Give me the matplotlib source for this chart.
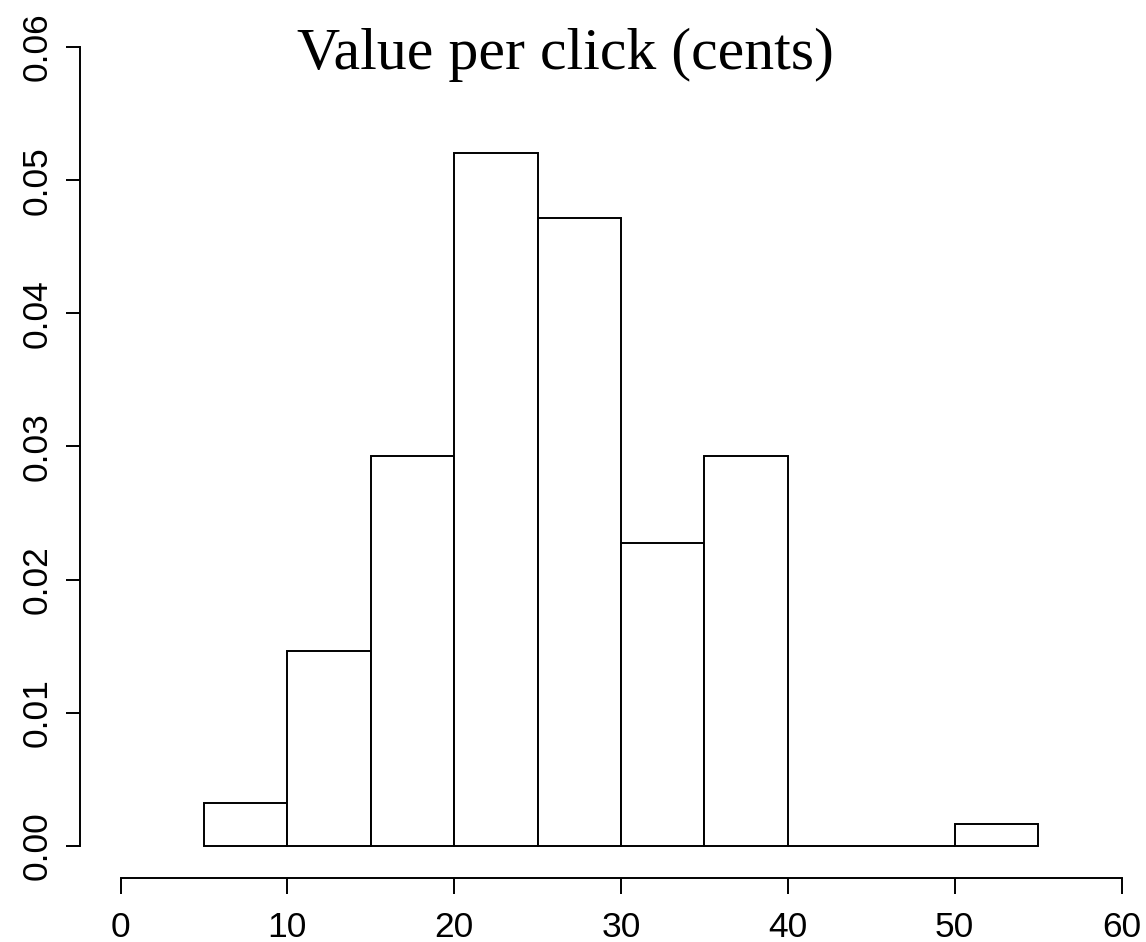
import matplotlib
matplotlib.use("Agg")
import matplotlib.pyplot as plt

# Histogram (density) of value per click, bins of width 5
bin_edges = [5, 10, 15, 20, 25, 30, 35, 40, 45, 50, 55]
densities = [0.00325, 0.01463, 0.02927, 0.05203, 0.04715, 0.02276, 0.02927, 0.0, 0.0, 0.001626]
x_ticks = [0, 10, 20, 30, 40, 50, 60]
y_ticks = [0.00, 0.01, 0.02, 0.03, 0.04, 0.05, 0.06]
y_ticklabels = ["0.00", "0.01", "0.02", "0.03", "0.04", "0.05", "0.06"]
title = "Value per click (cents)"

W, H = 1146, 942
fig = plt.figure(figsize=(W / 100, H / 100), dpi=100)

# pixel geometry
x0_px, x60_px = 120.5, 1121.5
ppu_x = (x60_px - x0_px) / 60.0
left_px = 80.0
right_px = 1146.0
y0_px, y06_px = 846.0, 47.0
ppu_y = (y0_px - y06_px) / 0.06
bottom_px = 878.0
top_px = 15.0

ax = fig.add_axes([left_px / W, 1 - bottom_px / H, (right_px - left_px) / W, (bottom_px - top_px) / H])
ax.set_xlim((left_px - x0_px) / ppu_x, (right_px - x0_px) / ppu_x)
ax.set_ylim(-(bottom_px - y0_px) / ppu_y, 0.06 + (y06_px - top_px) / ppu_y)

widths = [bin_edges[i + 1] - bin_edges[i] for i in range(len(densities))]
ax.bar(bin_edges[:-1], densities, width=widths, align="edge",
       facecolor="white", edgecolor="black", linewidth=1.4)

for s in ["top", "right"]:
    ax.spines[s].set_visible(False)
ax.spines["left"].set_bounds(0, 0.06)
ax.spines["bottom"].set_bounds(0, 60)
for s in ["left", "bottom"]:
    ax.spines[s].set_linewidth(1.4)

ax.set_xticks(x_ticks)
ax.set_xticklabels([str(t) for t in x_ticks], fontfamily="Liberation Sans", fontsize=25.5)
ax.set_yticks(y_ticks)
ax.set_yticklabels(y_ticklabels, fontfamily="Liberation Sans", fontsize=25.5,
                   rotation=90, va="center")
ax.tick_params(axis="x", length=11.5, width=1.4, pad=12)
ax.tick_params(axis="y", length=10, width=1.4, pad=9)

fig.text(565 / W, 1 - 69 / H, title, fontfamily="Liberation Serif", fontsize=43,
         ha="center", va="baseline")

fig.savefig("out.png", dpi=100)
